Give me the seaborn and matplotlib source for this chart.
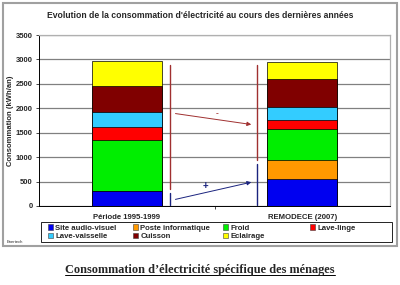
import matplotlib
matplotlib.use("Agg")
import matplotlib.pyplot as plt
from matplotlib.patches import Patch, Rectangle
from matplotlib.lines import Line2D
import seaborn as sns
import pandas as pd
import numpy as np

# ---- data ----
categories = ["Période 1995-1999", "REMODECE (2007)"]
usages = ["Site audio-visuel", "Poste informatique", "Froid", "Lave-linge",
          "Lave-vaisselle", "Cuisson", "Eclairage"]
audio_visuel = [310, 550]
poste_info = [0, 390]
froid = [1040, 630]
lave_linge = [270, 190]
lave_vaisselle = [300, 260]
cuisson = [545, 580]
eclairage = [500, 345]
colors = ["#0000f0", "#ff9900", "#00ee00", "#ff0000", "#33ccff", "#800000", "#ffff00"]

series = [audio_visuel, poste_info, froid, lave_linge, lave_vaisselle, cuisson, eclairage]

sns.set_theme(style="white")
plt.rcParams['font.family'] = ['Liberation Sans', 'DejaVu Sans']

fig = plt.figure(figsize=(4.0, 2.85), dpi=100)
W, H = 400, 285
ax = fig.add_axes([39 / W, 1 - 206 / H, (390 - 39) / W, (206 - 35) / H])

cum = np.cumsum(np.array(series), axis=0)
# draw tallest first so shorter stacks overlay
for i in range(len(usages) - 1, -1, -1):
    df = pd.DataFrame({"cat": categories, "val": cum[i]})
    sns.barplot(data=df, x="cat", y="val", color=colors[i], width=0.4,
                edgecolor="black", linewidth=0.5, saturation=1, ax=ax, zorder=3)

ax.set_ylim(0, 3500)
ax.set_xlim(-0.5, 1.5)
ax.set_yticks(np.arange(0, 3501, 500))
ax.yaxis.grid(True, color="#808080", linewidth=0.9, zorder=0)
ax.set_axisbelow(True)
ax.tick_params(axis="y", labelsize=5.5, length=2.5, width=0.6, pad=2, direction="out", left=True)
ax.tick_params(axis="x", labelsize=5.6, length=0, pad=6)
for lab in ax.get_yticklabels() + ax.get_xticklabels():
    lab.set_fontweight("bold")
ax.set_xticks([0.5], minor=True)
ax.tick_params(axis="x", which="minor", length=2.5, width=0.6, bottom=True, direction="out")
ax.set_xlabel("")
ax.set_ylabel("Consommation (kWh/an)", fontsize=5.5, fontweight="bold")
ax.yaxis.set_label_coords((14 - 39) / 351, 0.5)
for s in ["left", "bottom"]:
    ax.spines[s].set_color("black")
    ax.spines[s].set_linewidth(0.7)
for s in ["top", "right"]:
    ax.spines[s].set_color("#b0b0b0")
    ax.spines[s].set_linewidth(0.9)

# evolution annotations
red = "#a03030"
navy = "#1a237e"
ax.plot([0.249, 0.249], [350, 2890], color=red, lw=1.0, zorder=4)
ax.plot([0.249, 0.249], [20, 270], color=navy, lw=1.0, zorder=4)
ax.plot([0.744, 0.744], [940, 2890], color=red, lw=1.0, zorder=4)
ax.plot([0.744, 0.744], [20, 855], color=navy, lw=1.0, zorder=4)
ax.annotate("", xy=(0.725, 1660), xytext=(0.262, 1900),
            arrowprops=dict(arrowstyle="-|>", color=red, lw=0.7, mutation_scale=6), zorder=4)
ax.annotate("", xy=(0.725, 500), xytext=(0.262, 123),
            arrowprops=dict(arrowstyle="-|>", color=navy, lw=0.7, mutation_scale=6), zorder=4)
ax.text(0.517, 1900, "-", color=red, fontsize=6, fontweight="bold", ha="center", va="center")
ax.text(0.449, 400, "+", color=navy, fontsize=7, fontweight="bold", ha="center", va="center")

# title
fig.text(200 / W, 1 - 15 / H, "Evolution de la consommation d'électricité au cours des dernières années",
         ha="center", va="center", fontsize=6.2, fontweight="bold")

# legend: one column group per position, as in the reference
handles = [Patch(facecolor=c, edgecolor="#404040", linewidth=0.4) for c in colors]
groups = [[0, 4], [1, 5], [2, 6], [3]]
col_x = [46, 131, 221, 308]
for g, x in zip(groups, col_x):
    leg = fig.legend([handles[i] for i in g], [usages[i] for i in g],
                     ncol=1, loc="upper left", bbox_to_anchor=(x / W, 1 - 222.5 / H),
                     fontsize=5.6, frameon=False,
                     handlelength=0.7, handleheight=0.7, handletextpad=0.3,
                     labelspacing=0.15, borderpad=0.2, borderaxespad=0)
    for t in leg.get_texts():
        t.set_fontweight("bold")
fig.patches.append(Rectangle((41 / W, 1 - 242 / H), 351 / W, 20 / H, transform=fig.transFigure,
                             fill=False, edgecolor="black", linewidth=0.6))

fig.text(7 / W, 1 - 242 / H, "Enertech", fontsize=3, ha="left", va="center")

# outer chart border
fig.patches.append(Rectangle((3 / W, 1 - 246 / H), 394 / W, 243 / H, transform=fig.transFigure,
                             fill=False, edgecolor="#a0a0a0", linewidth=1.5))

# caption (underlined)
cap = fig.text(200 / W, 1 - 270 / H, "Consommation d\u2019électricité spécifique des ménages",
               ha="center", va="center", fontsize=8.8, fontweight="bold",
               family=["Liberation Serif", "DejaVu Serif"])
fig.canvas.draw()
bb = cap.get_window_extent().transformed(fig.transFigure.inverted())
fig.add_artist(Line2D([bb.x0, bb.x1], [bb.y0 + 0.004, bb.y0 + 0.004], transform=fig.transFigure,
                      color="black", linewidth=0.7))

fig.savefig("out.png", dpi=100, facecolor="white")
